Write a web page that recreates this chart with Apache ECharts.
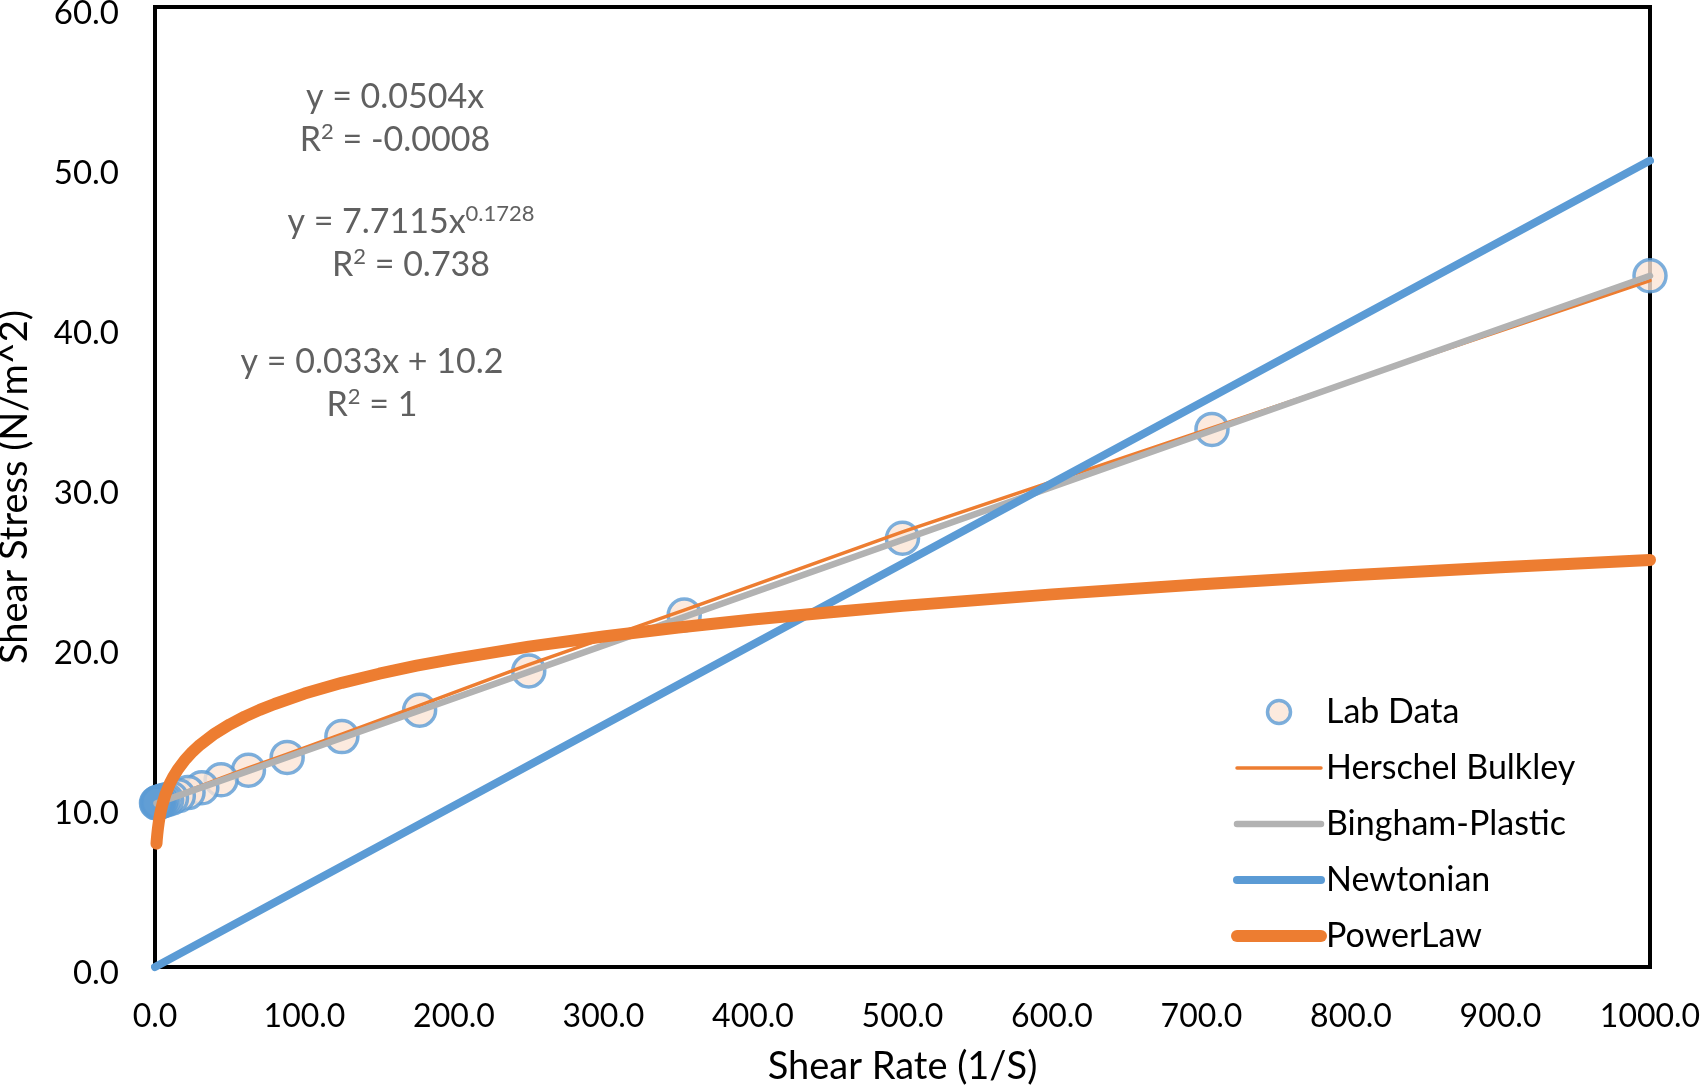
<!DOCTYPE html>
<html>
<head>
<meta charset="utf-8">
<script src="https://cdn.jsdelivr.net/npm/echarts@6/dist/echarts.min.js"></script>
<style>
  html, body { margin: 0; padding: 0; background: #fff; }
  #chart { width: 1701px; height: 1085px; }
</style>
</head>
<body>
<div id="chart"></div>
<script>
// ---- data ----
const labX = [1000, 707, 500, 354, 250, 177, 125, 88.4, 62.5, 44.2, 31.3, 22.1, 15.6, 11.0, 7.8, 5.5, 3.9, 2.8, 2.0, 1.4, 1.0];
const labY = [43.2, 33.6, 26.8, 22.0, 18.5, 16.05, 14.4, 13.1, 12.3, 11.7, 11.2, 10.9, 10.7, 10.55, 10.45, 10.4, 10.35, 10.3, 10.3, 10.25, 10.25];

const hbX = [1, 5.5, 11, 22.1, 44.2, 62.5, 88.4, 125, 177, 250, 354, 500, 707, 1000];
const hbY = [10.25, 10.4, 10.6, 11.0, 11.8, 12.45, 13.3, 14.55, 16.35, 18.9, 22.3, 27.2, 33.7, 42.9];

const bpX = [1, 1000];
const bpY = [10.23, 43.2];

const nwX = [0, 1000];
const nwY = [0, 50.4];

const plX = [1, 1.2, 1.5, 2, 2.5, 3, 4, 5, 7, 10, 12, 15, 20, 25, 30, 40, 50, 60, 70, 80, 100, 125, 150, 175, 200, 250, 300, 350, 400, 450, 500, 600, 700, 800, 900, 1000];
const plY = [7.71, 7.96, 8.27, 8.69, 9.03, 9.33, 9.80, 10.18, 10.79, 11.48, 11.85, 12.31, 12.94, 13.45, 13.88, 14.59, 15.16, 15.65, 16.07, 16.44, 17.09, 17.76, 18.33, 18.83, 19.26, 20.02, 20.66, 21.22, 21.72, 22.16, 22.57, 23.29, 23.92, 24.48, 24.98, 25.44];

const seriesNames = ['Lab Data', 'Herschel Bulkley', 'Bingham-Plastic', 'Newtonian', 'PowerLaw'];
const xTicks = { min: 0, max: 1000, step: 100 };
const yTicks = { min: 0, max: 60, step: 10 };

const annotations = [
  '{a|y = 0.0504x}',
  '{a|R}{s|2}{a| = -0.0008}',
  '{a|y = 7.7115x}{s|0.1728}',
  '{a|R}{s|2}{a| = 0.738}',
  '{a|y = 0.033x + 10.2}',
  '{a|R}{s|2}{a| = 1}'
];
// ---- end data ----

const FONT = 'Lato, "Open Sans", sans-serif';
const BLUE = '#5b9bd5', ORANGE = '#ed7d31', GRAY = '#b2b2b2', PEACH = '#fbe5d6';
const ANN = '#606060';

const pairs = (xs, ys) => xs.map((x, i) => [x, ys[i]]);

const annPos = [[395, 97], [395, 140], [411, 222], [411, 265], [372, 362], [372, 405]];
const lineWidths = { 'Herschel Bulkley': 3.5, 'Bingham-Plastic': 6.5, 'Newtonian': 8, 'PowerLaw': 12 };
const lineColors = { 'Herschel Bulkley': ORANGE, 'Bingham-Plastic': GRAY, 'Newtonian': BLUE, 'PowerLaw': ORANGE };

const chart = echarts.init(document.getElementById('chart'), null, { renderer: 'canvas' });
chart.setOption({
  animation: false,
  backgroundColor: '#fff',
  grid: { left: 155, right: 51, top: 7, bottom: 118, show: true, borderColor: '#000', borderWidth: 4,
          outerBoundsMode: 'none', containLabel: false },
  xAxis: {
    type: 'value', min: xTicks.min, max: xTicks.max, interval: xTicks.step,
    axisLine: { show: false }, axisTick: { show: false }, splitLine: { show: false },
    axisLabel: { formatter: v => v.toFixed(1), fontSize: 32, color: '#000', fontFamily: FONT, margin: 34 },
    name: 'Shear Rate (1/S)', nameLocation: 'middle', nameGap: 81,
    nameTextStyle: { fontSize: 38, color: '#000', fontFamily: FONT }
  },
  yAxis: {
    type: 'value', min: yTicks.min, max: yTicks.max, interval: yTicks.step,
    axisLine: { show: false }, axisTick: { show: false }, splitLine: { show: false },
    axisLabel: { formatter: v => '{t|' + v.toFixed(1) + '}', color: '#000', margin: 36,
                 rich: { t: { fontSize: 33, color: '#000', fontFamily: FONT, padding: [12, 0, 0, 0] } } },
    name: 'Shear Stress (N/m^2)', nameLocation: 'middle', nameGap: 121, nameRotate: 90,
    nameTextStyle: { fontSize: 38, color: '#000', fontFamily: FONT }
  },
  legend: {
    orient: 'vertical', left: 1226, top: 690,
    itemWidth: 84, itemHeight: 23, itemGap: 22,
    textStyle: { fontSize: 34, lineHeight: 34, color: '#000', fontFamily: FONT },
    data: seriesNames.map(n => n === 'Lab Data' ? {
      name: n, itemStyle: { color: PEACH, borderColor: BLUE, borderWidth: 3.5 }
    } : {
      name: n,
      itemStyle: { opacity: 0 },
      lineStyle: { width: lineWidths[n], color: lineColors[n], cap: 'round' }
    })
  },
  graphic: annotations.map((t, i) => ({
    type: 'text', x: annPos[i][0], y: annPos[i][1], z: 100,
    style: {
      text: t, fontSize: 34, fontFamily: FONT, fill: ANN, align: 'center', verticalAlign: 'middle',
      rich: {
        a: { fontSize: 34, fontFamily: FONT, fill: ANN },
        s: { fontSize: 22, fontFamily: FONT, fill: ANN, padding: [0, 0, 16, 0] }
      }
    }
  })),
  series: [
    {
      name: seriesNames[0], type: 'scatter', clip: false,
      symbol: 'circle', symbolSize: 32,
      itemStyle: { color: PEACH, borderColor: BLUE, borderWidth: 3.5 },
      data: pairs(labX, labY).map(p => p[0] < 2 ? { value: p, itemStyle: { color: BLUE } } : p)
    },
    {
      name: seriesNames[1], type: 'line', showSymbol: false, symbol: 'none',
      lineStyle: { color: ORANGE, width: lineWidths['Herschel Bulkley'], cap: 'round', join: 'round' }, itemStyle: { color: ORANGE },
      data: pairs(hbX, hbY)
    },
    {
      name: seriesNames[2], type: 'line', showSymbol: false, symbol: 'none',
      lineStyle: { color: GRAY, width: lineWidths['Bingham-Plastic'], cap: 'round' }, itemStyle: { color: GRAY },
      data: pairs(bpX, bpY)
    },
    {
      name: seriesNames[3], type: 'line', showSymbol: false, symbol: 'none', clip: false,
      lineStyle: { color: BLUE, width: lineWidths['Newtonian'], cap: 'round' }, itemStyle: { color: BLUE },
      data: pairs(nwX, nwY)
    },
    {
      name: seriesNames[4], type: 'line', showSymbol: false, symbol: 'none',
      lineStyle: { color: ORANGE, width: lineWidths['PowerLaw'], cap: 'round', join: 'round' }, itemStyle: { color: ORANGE },
      data: pairs(plX, plY)
    }
  ]
});
</script>
</body>
</html>
